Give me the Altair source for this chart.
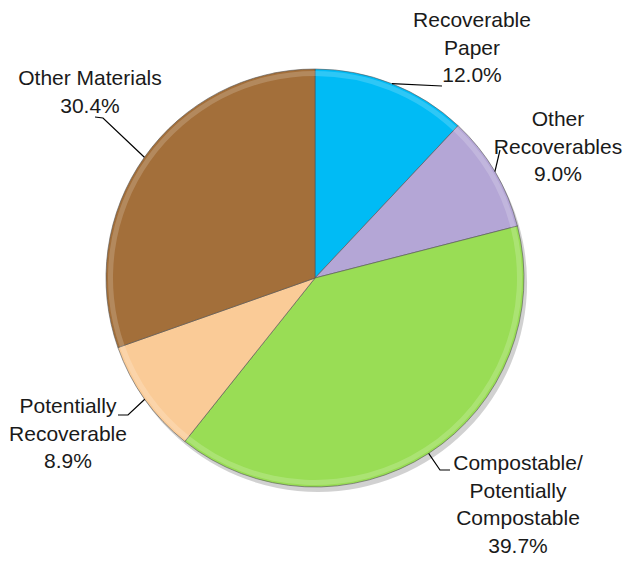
import altair as alt
import pandas as pd
import numpy as np

# ---- data ----
categories = ["Recoverable Paper", "Other Recoverables",
              "Compostable/Potentially Compostable", "Potentially Recoverable",
              "Other Materials"]
shares = [12.0, 9.0, 39.7, 8.9, 30.4]
label_lines = [["Recoverable", "Paper", "12.0%"],
               ["Other", "Recoverables", "9.0%"],
               ["Compostable/", "Potentially", "Compostable", "39.7%"],
               ["Potentially", "Recoverable", "8.9%"],
               ["Other Materials", "30.4%"]]
colors = ["#00BBF5", "#B4A6D6", "#99DD55", "#FACB97", "#A36F3A"]

# ---- layout (chart pixels) ----
W, H = 615, 547
CX, CY, R = 307, 270, 209
LINE_H = 27.5
label_x = [464, 550, 510, 60, 82]
label_y0 = [13, 112, 456, 399, 71]
leader_tail = [[(434, 78)], [(492, 142)], [(432, 462), (442, 462)],
               [(120, 407), (110, 407)], [(95, 110), (87, 109)]]

df = pd.DataFrame({"cat": categories, "share": shares, "order": range(len(categories))})

# leader lines: start at slice mid-angle on the rim
total = sum(shares)
cum = np.cumsum([0] + shares[:-1])
rows = []
for i, (c, s) in enumerate(zip(cum, shares)):
    ang = 2 * np.pi * (c + s / 2) / total
    pts = [(CX + R * np.sin(ang), CY - R * np.cos(ang))] + leader_tail[i]
    for k, (px, py) in enumerate(pts):
        rows.append({"cat": categories[i], "k": k, "px": px, "py": py})
lead = pd.DataFrame(rows)

trows = []
for i, lines in enumerate(label_lines):
    for j, t in enumerate(lines):
        trows.append({"t": t, "tx": label_x[i], "ty": label_y0[i] + j * LINE_H})
tdf = pd.DataFrame(trows)

shadow = alt.Chart(pd.DataFrame({"a": [1]})).mark_arc(
    theta=0, theta2=2 * np.pi, radius=R, color="#000000", opacity=0.18
).encode(x=alt.value(CX + 3), y=alt.value(CY + 5))

pie = alt.Chart(df).mark_arc(radius=R, stroke="#555555", strokeWidth=1, strokeOpacity=0.6).encode(
    theta=alt.Theta("share:Q", stack=True),
    order=alt.Order("order:Q"),
    color=alt.Color("cat:N", scale=alt.Scale(domain=categories, range=colors), legend=None),
    x=alt.value(CX), y=alt.value(CY),
)

# subtle rim highlight for a bevelled look
rim = alt.Chart(df).mark_arc(radius=R - 2, radius2=R - 7, color="#ffffff", opacity=0.18).encode(
    theta=alt.Theta("share:Q", stack=True),
    order=alt.Order("order:Q"),
    x=alt.value(CX), y=alt.value(CY),
)

leaders = alt.Chart(lead).mark_line(color="#000000", strokeWidth=1.2).encode(
    x=alt.X("px:Q", scale=None), y=alt.Y("py:Q", scale=None),
    detail="cat:N", order="k:Q",
)

texts = alt.Chart(tdf).mark_text(
    font="Liberation Sans", fontSize=21, color="#1a1a1a", align="center", baseline="middle"
).encode(x=alt.X("tx:Q", scale=None), y=alt.Y("ty:Q", scale=None), text="t:N")

chart = alt.layer(shadow, pie, rim, leaders, texts).properties(
    width=W, height=H, padding=0, autosize=alt.AutoSizeParams(type="none")
).configure_view(stroke=None)

chart.save("out.html", embed_options={"renderer": "svg", "actions": False})
